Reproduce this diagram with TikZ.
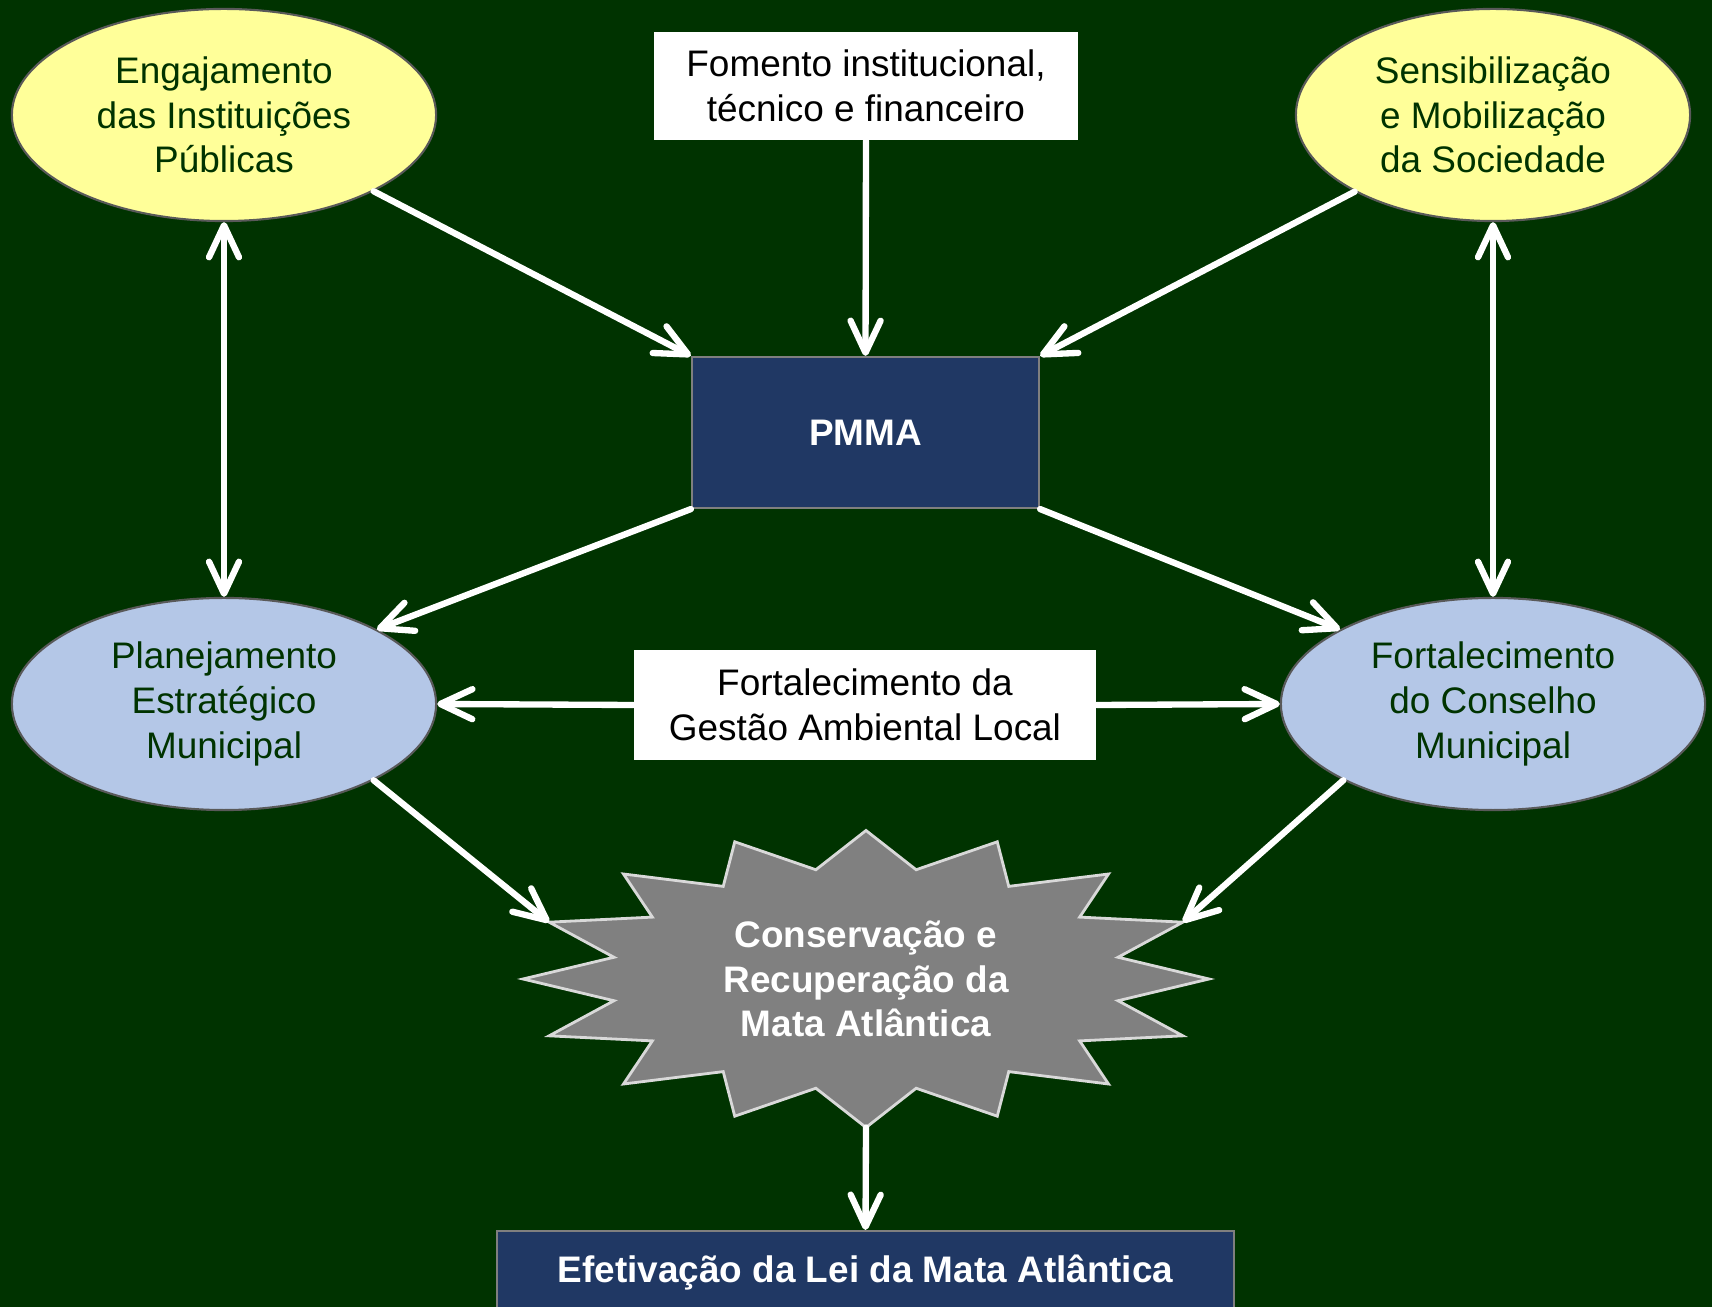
\documentclass[tikz,border=0pt]{standalone}
\usepackage{fontspec}
\setmainfont{Liberation Sans}
\usetikzlibrary{shapes.geometric}
\usetikzlibrary{arrows.meta}
\definecolor{bg-green}{RGB}{0,51,0}
\definecolor{light-yellow}{RGB}{255,255,153}
\definecolor{light-blue}{RGB}{180,199,231}
\definecolor{navy}{RGB}{32,56,100}
\definecolor{oval-border}{RGB}{89,89,89}
\definecolor{box-border}{RGB}{127,127,127}
\definecolor{star-gray}{RGB}{128,128,128}
\definecolor{star-border}{RGB}{217,217,217}
\newcommand{\diagfont}{\fontsize{10.5}{12.7}\selectfont}
\tikzstyle{oval}=[ellipse,draw=oval-border,line width=0.6pt,text=bg-green,inner sep=0pt,minimum width=4.24cm,minimum height=2.12cm,align=center,font=\diagfont]
\tikzstyle{yellowoval}=[oval,fill=light-yellow]
\tikzstyle{blueoval}=[oval,fill=light-blue]
\tikzstyle{whitebox}=[rectangle,fill=white,text=black,inner sep=0pt,align=center,font=\diagfont]
\tikzstyle{navybox}=[rectangle,fill=navy,draw=box-border,line width=0.6pt,text=white,inner sep=0pt,align=center,font=\diagfont\bfseries]
\tikzstyle{starburst}=[fill=star-gray,draw=star-border,line width=0.8pt,line join=miter]
\tikzstyle{link}=[white,line width=1.8pt,line cap=round]

\begin{document}
\begin{tikzpicture}[x=0.01cm,y=-0.01cm,>={Straight Barb[length=3.2mm,width=3mm,round]}]
\clip (0,0) rectangle (1712,1307);
\fill[bg-green] (0,0) rectangle (1712,1307);
% top row
\node[yellowoval] (eng) at (224,115) {Engajamento\\das Instituições\\Públicas};
\node[whitebox,minimum width=4.24cm,minimum height=1.08cm] (fomento) at (866,86) {Fomento institucional,\\técnico e financeiro};
\node[yellowoval,minimum width=3.94cm] (sens) at (1493,115) {Sensibilização\\e Mobilização\\da Sociedade};
% centre
\node[navybox,minimum width=3.47cm,minimum height=1.51cm] (pmma) at (865.5,432.5) {PMMA};
\node[blueoval] (plan) at (224,704) {Planejamento\\Estratégico\\Municipal};
\node[whitebox,minimum width=4.62cm,minimum height=1.09cm] (gestao) at (865,705) {Fortalecimento da\\Gestão Ambiental Local};
\node[blueoval] (conselho) at (1493,704) {Fortalecimento\\do Conselho\\Municipal};
% 16 point star
\begin{scope}[shift={(866,979)}]
	\draw[starburst] (0:343 and 148.5) \foreach \a in {0,22.5,...,337.5} { -- (\a:343 and 148.5) -- ({\a+11.25}:257 and 111.4) } -- cycle;
	\coordinate (starL) at (202.5:343 and 148.5);
	\coordinate (starR) at (337.5:343 and 148.5);
	\coordinate (starB) at (90:343 and 148.5);
\end{scope}
\node[text=white,align=center,font=\diagfont\bfseries] (cons) at (866,979) {Conservação e\\Recuperação da\\Mata Atlântica};
\node[navybox,minimum width=7.37cm,minimum height=0.84cm] (lei) at (865.5,1273) {Efetivação da Lei da Mata Atlântica};
% connectors
\draw[link,->] (eng.-27) -- (pmma.north west);
\draw[link,->] (fomento.south) -- (pmma.north);
\draw[link,->] (sens.-151) -- (pmma.north east);
\draw[link,<->] (eng.south) -- (plan.north);
\draw[link,<->] (sens.south) -- (conselho.north);
\draw[link,->] (pmma.south west) -- (plan.26);
\draw[link,->] (pmma.south east) -- (conselho.154);
\draw[link,->] (gestao.west) -- (plan.east);
\draw[link,->] (gestao.east) -- (conselho.west);
\draw[link,->] (plan.-27) -- (starL);
\draw[link,->] (conselho.207) -- (starR);
\draw[link,->] (starB) -- (lei.north);
\end{tikzpicture}
\end{document}
